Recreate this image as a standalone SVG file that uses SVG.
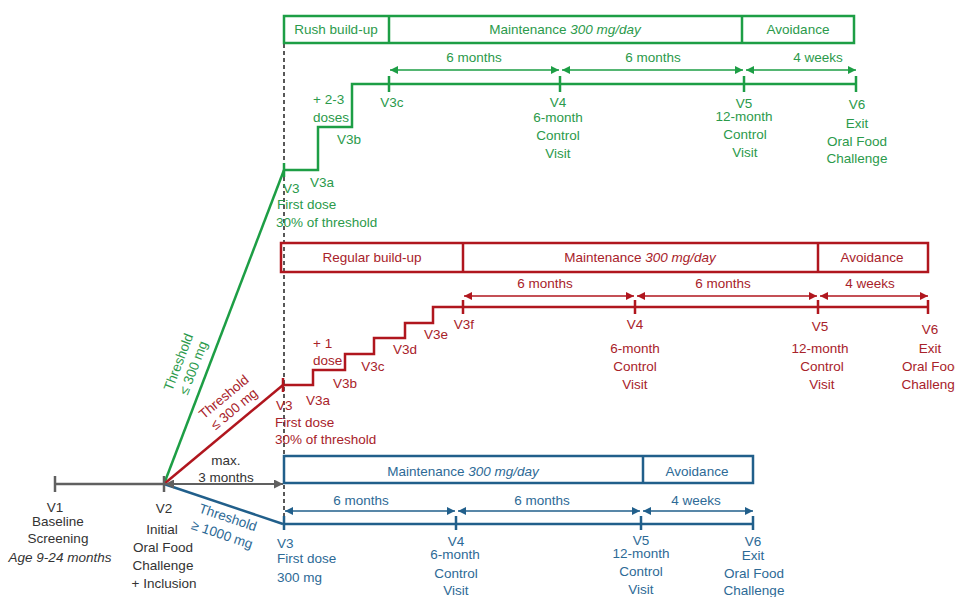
<svg xmlns="http://www.w3.org/2000/svg" width="955" height="597" viewBox="0 0 955 597">
<style>
text{font-family:"Liberation Sans",Arial,sans-serif;font-size:13.5px}
.m{text-anchor:middle}
.i{font-style:italic}
.g{fill:#2b9a4b}.r{fill:#a8222a}.b{fill:#2d6a96}.k{fill:#333}
.gs{stroke:#1d9e45;fill:none}.rs{stroke:#b0161e;fill:none}.bs{stroke:#215f8b;fill:none}.ks{stroke:#606060;fill:none}
.box{stroke-width:2.5}
.tl{stroke-width:2.5}
.tk{stroke-width:2.5}
.ar{stroke-width:1.5}
</style>
<defs>
<marker id="ag" viewBox="0 0 10 10" refX="10" refY="5" markerWidth="9" markerHeight="8" markerUnits="userSpaceOnUse" orient="auto-start-reverse"><path d="M0,0L10,5L0,10z" fill="#1d9e45"/></marker>
<marker id="ar" viewBox="0 0 10 10" refX="10" refY="5" markerWidth="9" markerHeight="8" markerUnits="userSpaceOnUse" orient="auto-start-reverse"><path d="M0,0L10,5L0,10z" fill="#b0161e"/></marker>
<marker id="ab" viewBox="0 0 10 10" refX="10" refY="5" markerWidth="9" markerHeight="8" markerUnits="userSpaceOnUse" orient="auto-start-reverse"><path d="M0,0L10,5L0,10z" fill="#215f8b"/></marker>
<marker id="ak" viewBox="0 0 10 10" refX="10" refY="5" markerWidth="10" markerHeight="9" markerUnits="userSpaceOnUse" orient="auto-start-reverse"><path d="M0,0L10,5L0,10z" fill="#606060"/></marker>
</defs>

<g id="connectors">
<line x1="164" y1="484" x2="284" y2="170" class="gs tl" stroke-width="2"/>
<line x1="164" y1="484" x2="283" y2="385" class="rs tl" stroke-width="2"/>
<line x1="164" y1="484" x2="283" y2="524" class="bs tl"/>
<line x1="55" y1="484" x2="164" y2="484" class="ks tl" stroke-width="2"/>
<line x1="165" y1="484" x2="283" y2="484" class="ks" stroke-width="2" marker-start="url(#ak)" marker-end="url(#ak)"/>
<line x1="284" y1="16" x2="284" y2="516" stroke="#222" stroke-width="1.5" stroke-dasharray="4,3"/>
</g>

<g id="green-arm">
<rect x="284" y="16" width="570" height="27" class="gs box"/>
<line x1="389" y1="16" x2="389" y2="43" class="gs box"/>
<line x1="742" y1="16" x2="742" y2="43" class="gs box"/>
<text x="336" y="34" class="m g">Rush build-up</text>
<text x="565" y="34" class="m g">Maintenance <tspan class="i">300 mg/day</tspan></text>
<text x="798" y="34" class="m g">Avoidance</text>
<line x1="390" y1="70" x2="559" y2="70" class="gs ar" marker-start="url(#ag)" marker-end="url(#ag)"/>
<line x1="562" y1="70" x2="743" y2="70" class="gs ar" marker-start="url(#ag)" marker-end="url(#ag)"/>
<line x1="746" y1="70" x2="856" y2="70" class="gs ar" marker-start="url(#ag)" marker-end="url(#ag)"/>
<text x="474" y="62" class="m g">6 months</text>
<text x="653" y="62" class="m g">6 months</text>
<text x="818" y="62" class="m g">4 weeks</text>
<path d="M284,170H318V127H352V84H856" class="gs tl"/>
<path d="M284,163V177M389,76V92M560,76V92M744,76V92M856,76V92" class="gs tk"/>
<text x="283" y="193" class="g">V3</text>
<text x="310" y="187" class="g">V3a</text>
<text x="277" y="209" class="g">First dose</text>
<text x="276" y="227" class="g">30% of threshold</text>
<text x="313" y="104" class="g">+ 2-3</text>
<text x="313" y="122" class="g">doses</text>
<text x="337" y="144" class="g">V3b</text>
<text x="392" y="107" class="m g">V3c</text>
<text x="558" y="107" class="m g">V4</text>
<text x="558" y="122" class="m g">6-month</text>
<text x="558" y="140" class="m g">Control</text>
<text x="558" y="158" class="m g">Visit</text>
<text x="744" y="108" class="m g">V5</text>
<text x="744" y="121" class="m g">12-month</text>
<text x="745" y="139" class="m g">Control</text>
<text x="745" y="157" class="m g">Visit</text>
<text x="857" y="109" class="m g">V6</text>
<text x="857" y="128" class="m g">Exit</text>
<text x="857" y="146" class="m g">Oral Food</text>
<text x="857" y="163" class="m g">Challenge</text>
<g transform="translate(186,365) rotate(-69)"><text x="0" y="-3.5" class="m g">Threshold</text><text x="0" y="12.5" class="m g">≤ 300 mg</text></g>
</g>

<g id="red-arm">
<rect x="281" y="243" width="647" height="29" class="rs box"/>
<line x1="463" y1="243" x2="463" y2="272" class="rs box"/>
<line x1="818" y1="243" x2="818" y2="272" class="rs box"/>
<text x="372" y="262" class="m r">Regular build-up</text>
<text x="640" y="262" class="m r">Maintenance <tspan class="i">300 mg/day</tspan></text>
<text x="872" y="262" class="m r">Avoidance</text>
<line x1="464" y1="296" x2="634" y2="296" class="rs ar" marker-start="url(#ar)" marker-end="url(#ar)"/>
<line x1="637" y1="296" x2="817" y2="296" class="rs ar" marker-start="url(#ar)" marker-end="url(#ar)"/>
<line x1="820" y1="296" x2="928" y2="296" class="rs ar" marker-start="url(#ar)" marker-end="url(#ar)"/>
<text x="545" y="288" class="m r">6 months</text>
<text x="723" y="288" class="m r">6 months</text>
<text x="870" y="288" class="m r">4 weeks</text>
<path d="M283,385H313V370H345V354H374V338H405V323H433V307H928" class="rs tl"/>
<path d="M283,378V392M463,300V314M635,300V314M818,300V314M928,300V314" class="rs tk"/>
<text x="313" y="348" class="r">+ 1</text>
<text x="313" y="365" class="r">dose</text>
<text x="318" y="405" class="m r">V3a</text>
<text x="345" y="388" class="m r">V3b</text>
<text x="373" y="371" class="m r">V3c</text>
<text x="405" y="354" class="m r">V3d</text>
<text x="436" y="339" class="m r">V3e</text>
<text x="464" y="329" class="m r">V3f</text>
<text x="276" y="410" class="r">V3</text>
<text x="275" y="427" class="r">First dose</text>
<text x="275" y="444" class="r">30% of threshold</text>
<text x="635" y="329" class="m r">V4</text>
<text x="635" y="353" class="m r">6-month</text>
<text x="635" y="371" class="m r">Control</text>
<text x="635" y="389" class="m r">Visit</text>
<text x="820" y="331" class="m r">V5</text>
<text x="820" y="353" class="m r">12-month</text>
<text x="822" y="371" class="m r">Control</text>
<text x="822" y="389" class="m r">Visit</text>
<text x="930" y="334" class="m r">V6</text>
<text x="930" y="353" class="m r">Exit</text>
<text x="932" y="371" class="m r">Oral Food</text>
<text x="932" y="389" class="m r">Challenge</text>
<g transform="translate(229,403) rotate(-39.8)"><text x="0" y="-3.5" class="m r">Threshold</text><text x="0" y="12.5" class="m r">≤ 300 mg</text></g>
</g>

<g id="blue-arm">
<rect x="284" y="456" width="469" height="27" class="bs box"/>
<line x1="643" y1="456" x2="643" y2="483" class="bs box"/>
<text x="463" y="476" class="m b">Maintenance <tspan class="i">300 mg/day</tspan></text>
<text x="697" y="476" class="m b">Avoidance</text>
<line x1="285" y1="511" x2="455" y2="511" class="bs ar" marker-start="url(#ab)" marker-end="url(#ab)"/>
<line x1="458" y1="511" x2="640" y2="511" class="bs ar" marker-start="url(#ab)" marker-end="url(#ab)"/>
<line x1="643" y1="511" x2="753" y2="511" class="bs ar" marker-start="url(#ab)" marker-end="url(#ab)"/>
<text x="361" y="505" class="m b">6 months</text>
<text x="542" y="505" class="m b">6 months</text>
<text x="696" y="505" class="m b">4 weeks</text>
<path d="M284,524H753" class="bs tl"/>
<path d="M284,516V530M456,516V530M641,516V530M753,516V530" class="bs tk"/>
<text x="277" y="548" class="b">V3</text>
<text x="277" y="563" class="b">First dose</text>
<text x="277" y="582" class="b">300 mg</text>
<text x="456" y="546" class="m b">V4</text>
<text x="455" y="559" class="m b">6-month</text>
<text x="456" y="578" class="m b">Control</text>
<text x="456" y="595" class="m b">Visit</text>
<text x="641" y="545" class="m b">V5</text>
<text x="641" y="558" class="m b">12-month</text>
<text x="641" y="576" class="m b">Control</text>
<text x="641" y="594" class="m b">Visit</text>
<text x="753" y="546" class="m b">V6</text>
<text x="753" y="560" class="m b">Exit</text>
<text x="754" y="578" class="m b">Oral Food</text>
<text x="754" y="595" class="m b">Challenge</text>
<g transform="translate(225,526) rotate(18.6)"><text x="0" y="-4.5" class="m b">Threshold</text><text x="0" y="13.5" class="m b">≥ 1000 mg</text></g>
</g>

<g id="v1">
<path d="M55,476V492" class="ks tk" stroke-width="2"/>
<text x="55" y="512" class="m k">V1</text>
<text x="58" y="526" class="m k">Baseline</text>
<text x="58" y="543" class="m k">Screening</text>
<text x="60" y="562" class="m k i">Age 9-24 months</text>
</g>

<g id="v2">
<path d="M164,476V492" class="ks tk" stroke-width="2"/>
<text x="164" y="513" class="m k">V2</text>
<text x="162" y="534" class="m k">Initial</text>
<text x="163" y="552" class="m k">Oral Food</text>
<text x="163" y="570" class="m k">Challenge</text>
<text x="164" y="588" class="m k">+ Inclusion</text>
</g>

<g id="max-label">
<text x="226" y="465" class="m k">max.</text>
<text x="226" y="482" class="m k">3 months</text>
</g>
</svg>
